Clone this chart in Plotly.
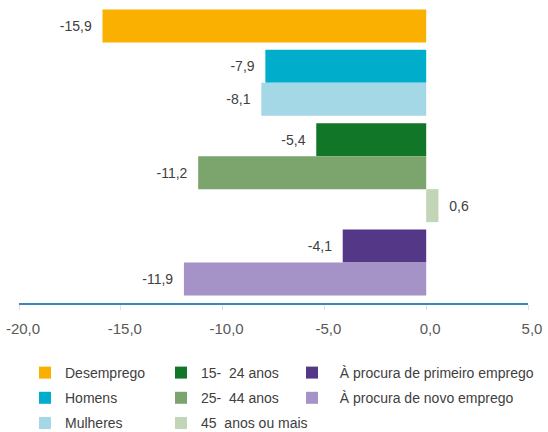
import plotly.graph_objects as go

# ---- data ----
group_labels = [
    ["Desemprego"],
    ["Homens", "Mulheres"],
    ["15-\u00a0 24 anos", "25-\u00a0 44 anos", "45\u00a0 anos ou mais"],
    ["À procura de primeiro emprego", "À procura de novo emprego"],
]
group_values = [
    [-15.9],
    [-7.9, -8.1],
    [-5.4, -11.2, 0.6],
    [-4.1, -11.9],
]
tick_values = [-20, -15, -10, -5, 0, 5]

# ---- styles ----
group_colors = [
    ["#F9B000"],
    ["#00AECB", "#A5D8E6"],
    ["#127629", "#7BA56C", "#C2D6B7"],
    ["#553787", "#A592C7"],
]
series_legend = ["legend", "legend", "legend", "legend2", "legend2", "legend2", "legend3", "legend3"]
series_rank = [1, 2, 3, 1, 2, 3, 1, 2]
series_prefix = ["", "", "", "", "", "", "\u00a0\u00a0", "\u00a0\u00a0"]
GAP = 0.22       # gap between groups, in bar heights
PAD_TOP = 0.2
PAD_BOTTOM = 0.23
FONT = "Liberation Sans, Arial, sans-serif"


def fmt(v):
    return f"{v:.1f}".replace(".", ",")


fig = go.Figure()
idx = 0
n_total = sum(len(g) for g in group_labels)
for gi, (labels, vals, cols) in enumerate(zip(group_labels, group_values, group_colors)):
    for lab, v, c in zip(labels, vals, cols):
        pos = idx + gi * GAP + 0.5
        txt = ("\u00a0\u00a0" + fmt(v)) if v >= 0 else (fmt(v) + "\u00a0\u00a0")
        fig.add_trace(go.Bar(
            x=[v], y=[pos], orientation="h", width=1,
            name=series_prefix[idx] + lab, marker=dict(color=c, line=dict(width=0)),
            text=[txt], textposition="outside", cliponaxis=False,
            textfont=dict(family=FONT, size=14, color="#404040"),
            legend=series_legend[idx], legendgroup=lab, legendrank=series_rank[idx],
            hoverinfo="skip",
        ))
        idx += 1

y_end = n_total + (len(group_labels) - 1) * GAP

legend_common = dict(
    orientation="v", xref="container", yref="container",
    xanchor="left", yanchor="top", bgcolor="rgba(0,0,0,0)",
    font=dict(family=FONT, size=14, color="#404040"),
    tracegroupgap=4, traceorder="grouped",
)
LEG_TOP = 357

fig.update_layout(
    width=548, height=432,
    margin=dict(l=19, r=20, t=3, b=129, autoexpand=False),
    paper_bgcolor="white", plot_bgcolor="white",
    barmode="overlay",
    showlegend=True,
    xaxis=dict(
        range=[-20, 5], tickvals=tick_values, ticktext=[fmt(t) for t in tick_values],
        showgrid=False, zeroline=False, showline=True, linecolor="#3A87C0", linewidth=2,
        ticks="outside", ticklen=5, tickcolor="#D5E0EA", tickwidth=1,
        tickfont=dict(family=FONT, size=15, color="#595959"),
        ticklabelshift=4, ticklabelstandoff=6,
    ),
    yaxis=dict(range=[y_end + PAD_BOTTOM, -PAD_TOP], visible=False),
    legend=dict(x=25 / 548, y=1 - LEG_TOP / 432, **legend_common),
    legend2=dict(x=161 / 548, y=1 - LEG_TOP / 432, **legend_common),
    legend3=dict(x=292 / 548, y=1 - LEG_TOP / 432, **legend_common),
)

fig.write_html(
    "out.html",
    config={"displayModeBar": False, "staticPlot": True},
    post_script="document.body.style.margin='0';document.body.style.padding='0';",
)
